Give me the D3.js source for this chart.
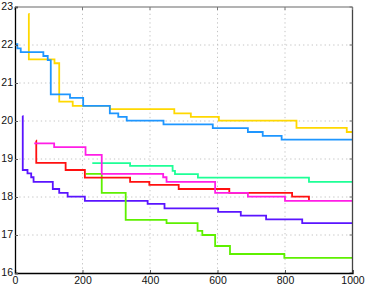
<!DOCTYPE html>
<html>
<head>
<meta charset="utf-8">
<script src="https://cdn.jsdelivr.net/npm/d3@7/dist/d3.min.js"></script>
<style>
  body { margin: 0; background: #fff; }
  svg { display: block; }
  .tick text { font-family: "Liberation Sans", Arial, sans-serif; font-size: 10.5px; fill: #111; }
</style>
</head>
<body>
<div id="chart"></div>
<script>
// step series, each point = [x, value from x onwards]
const yellowPts  = [[40,22.82],[41,21.62],[117,21.52],[131,20.51],[171,20.40],[281,20.31],[472,20.20],[521,20.11],[604,20.01],[834,19.82],[983,19.71],[1000,19.71]];
const bluePts    = [[0,22.02],[7,21.91],[17,21.81],[84,21.71],[97,21.60],[106,20.70],[163,20.61],[202,20.40],[281,20.20],[306,20.11],[331,20.01],[440,19.91],[586,19.81],[690,19.71],[734,19.61],[790,19.51],[1000,19.51]];
const purplePts  = [[22,20.13],[23,18.71],[37,18.62],[48,18.52],[55,18.40],[112,18.21],[131,18.11],[156,18.01],[207,17.90],[393,17.82],[443,17.70],[602,17.61],[669,17.51],[744,17.41],[851,17.31],[1000,17.31]];
const limePts    = [[210,18.61],[257,18.11],[328,17.40],[449,17.31],[541,17.11],[555,17.00],[593,16.71],[637,16.50],[798,16.40],[1000,16.40]];
const springPts  = [[229,18.89],[341,18.82],[467,18.69],[474,18.60],[542,18.51],[871,18.40],[1000,18.40]];
const redPts     = [[62,19.48],[63,18.90],[150,18.71],[207,18.51],[341,18.40],[398,18.32],[485,18.21],[635,18.11],[821,18.01],[871,17.92]];
const magentaPts = [[57,19.41],[116,19.31],[209,19.11],[257,18.61],[439,18.52],[449,18.40],[593,18.11],[690,18.01],[800,17.90],[1000,17.90]];

const seriesList = [
  { pts: yellowPts,  color: "#ffd800" },
  { pts: bluePts,    color: "#1e96ff" },
  { pts: purplePts,  color: "#5a14ff" },
  { pts: limePts,    color: "#5ef000" },
  { pts: springPts,  color: "#1eff96" },
  { pts: redPts,     color: "#ff1010" },
  { pts: magentaPts, color: "#ff1ee6" }
];

const xTicks = [0, 200, 400, 600, 800, 1000];
const yTicks = [16, 17, 18, 19, 20, 21, 22, 23];

const W = 371, H = 289;
const margin = { top: 7, right: 18.5, bottom: 16, left: 15 };

const svg = d3.select("#chart").append("svg").attr("width", W).attr("height", H);

const x = d3.scaleLinear().domain([0, 1000]).range([margin.left, W - margin.right]);
const y = d3.scaleLinear().domain([16, 23]).range([H - margin.bottom, margin.top]);

// grid
const grid = svg.append("g").attr("stroke", "#c4c4c4").attr("stroke-dasharray", "1.3,3").attr("stroke-width", 1);
grid.selectAll("line.vx").data(xTicks.slice(1, -1)).join("line")
  .attr("x1", d => x(d)).attr("x2", d => x(d)).attr("y1", y(16)).attr("y2", y(23));
grid.selectAll("line.hy").data(yTicks.slice(1, -1)).join("line")
  .attr("x1", x(0)).attr("x2", x(1000)).attr("y1", d => y(d)).attr("y2", d => y(d));

// lines
const line = d3.line().x(d => x(d[0])).y(d => y(d[1])).curve(d3.curveStepAfter);
svg.append("g").selectAll("path").data(seriesList).join("path")
  .attr("d", d => line(d.pts))
  .attr("fill", "none")
  .attr("stroke", d => d.color)
  .attr("stroke-width", 1.8);

// box: top and right
svg.append("line").attr("x1", x(0)).attr("x2", x(1000)).attr("y1", y(23)).attr("y2", y(23))
  .attr("stroke", "#9a9a9a").attr("stroke-width", 1.6);
svg.append("line").attr("x1", x(1000)).attr("x2", x(1000)).attr("y1", y(23)).attr("y2", y(16))
  .attr("stroke", "#444").attr("stroke-width", 1.3);

// inward ticks on top/right
svg.append("g").selectAll("line").data(xTicks).join("line")
  .attr("x1", d => x(d)).attr("x2", d => x(d)).attr("y1", y(23)).attr("y2", y(23) + 3)
  .attr("stroke", "#777");
svg.append("g").selectAll("line").data(yTicks).join("line")
  .attr("x1", x(1000) - 3).attr("x2", x(1000)).attr("y1", d => y(d)).attr("y2", d => y(d))
  .attr("stroke", "#777");

// axes
const xAxis = svg.append("g").attr("transform", `translate(0,${y(16)})`)
  .call(d3.axisBottom(x).tickValues(xTicks).tickSize(-3).tickPadding(5).tickFormat(d3.format("d")));
const yAxis = svg.append("g").attr("transform", `translate(${x(0)},0)`)
  .call(d3.axisLeft(y).tickValues(yTicks).tickSize(-3).tickPadding(2).tickFormat(d3.format("d")));

[xAxis, yAxis].forEach(a => {
  a.select(".domain").attr("stroke", "#000").attr("stroke-width", 1.3);
  a.selectAll(".tick line").attr("stroke", "#555");
});
yAxis.selectAll(".tick text").attr("dy", "0.2em");
xAxis.selectAll(".tick text").attr("dy", "0.55em");
</script>
</body>
</html>
